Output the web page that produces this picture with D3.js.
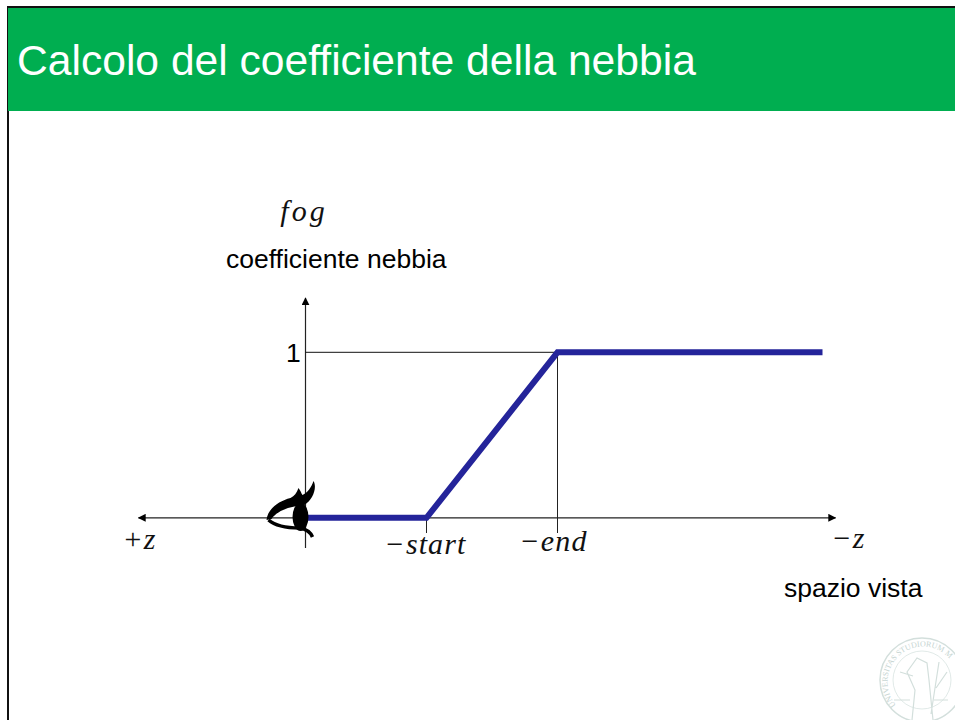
<!DOCTYPE html>
<html>
<head>
<meta charset="utf-8">
<script src="https://cdn.jsdelivr.net/npm/d3@7"></script>
<style>
html,body{margin:0;padding:0;background:#fff;overflow:hidden;}
svg{display:block;}
.sans{font-family:"Liberation Sans",Arial,sans-serif;fill:#000;}
.math{font-family:"Liberation Serif",serif;font-style:italic;fill:#111;font-size:30px;letter-spacing:1.1px;}
</style>
</head>
<body>
<svg class="svg" width="955" height="720"></svg>
<script>
// depth along the view axis (0 = eye), fog coefficient
var fogDepth=[0,121,252,517];
var fogValue=[0,0,1,1];
var startDepth=121,endDepth=252;
var titleText="Calcolo del coefficiente della nebbia";
var depthLabels=[["+z",-166],["\u2212start",120],["\u2212end",248],["\u2212z",543]];

var svg=d3.select(".svg");
var x=d3.scaleLinear().domain([0,517]).range([305.5,822.5]);
var y=d3.scaleLinear().domain([0,1]).range([517.8,352.3]);

//slide frame and header
svg.append("rect").attr("x",8).attr("y",7).attr("width",950).attr("height",716).attr("fill","#fff").attr("stroke","#111").attr("stroke-width",2);
svg.append("rect").attr("x",8).attr("y",8).attr("width",947).attr("height",103).attr("fill","#00ae50");
svg.append("text").attr("class","sans").attr("x",17).attr("y",75).style("font-size","42.6px").style("fill","#fff").text(titleText);

var defs=svg.append("defs");
defs.append("marker").attr("id","tip").attr("viewBox","0 0 10 10").attr("refX",9).attr("refY",5)
    .attr("markerUnits","userSpaceOnUse").attr("markerWidth",8).attr("markerHeight",8).attr("orient","auto-start-reverse")
    .append("path").attr("d","M0 0L10 5L0 10Z").attr("fill","#000");

//seal, very faint and cut by the right edge like the logo on the slide
var seal=svg.append("g").attr("transform","translate(922,680)").attr("fill","none").attr("stroke","#d3dfdc");
seal.append("circle").attr("r",42).attr("stroke-width",1.5);
seal.append("circle").attr("r",29).attr("stroke-width",0.7);
seal.append("path").attr("d","M-10 40L-7 10L-15 -8L-5 -22L5 -17L7 0L11 40M17 -18L9 34M-22 -8L-9 -4M14 8L25 -8M-28 20H-12M12 20H26").attr("stroke-width",1.2);
defs.append("path").attr("id","sealArc").attr("d","M-26 25A35 35 0 1 1 28 -21");
seal.append("text").attr("stroke","none").attr("fill","#c5d4d1").style("font-family","Liberation Serif").style("font-size","8px")
    .append("textPath").attr("href","#sealArc").text("UNIVERSITAS STUDIORUM MED");

//axes
svg.append("line").attr("x1",x(-167)).attr("x2",x(530)).attr("y1",y(0)).attr("y2",y(0))
    .attr("stroke","#222").attr("stroke-width",1.3).attr("marker-start","url(#tip)").attr("marker-end","url(#tip)");
svg.append("line").attr("x1",x(0)).attr("x2",x(0)).attr("y1",548).attr("y2",298)
    .attr("stroke","#222").attr("stroke-width",1.2).attr("marker-end","url(#tip)");

//guides
svg.append("line").attr("x1",x(0)).attr("x2",x(endDepth)).attr("y1",y(1)).attr("y2",y(1)).attr("stroke","#111").attr("stroke-width",1);
svg.append("line").attr("x1",x(endDepth)).attr("x2",x(endDepth)).attr("y1",y(1)).attr("y2",533).attr("stroke","#222").attr("stroke-width",1);
svg.append("line").attr("x1",x(startDepth)).attr("x2",x(startDepth)).attr("y1",y(0)).attr("y2",533).attr("stroke","#222").attr("stroke-width",1);

//fog curve
var line=d3.line().x(function(d){ return x(d[0]); }).y(function(d){ return y(d[1]); });
svg.append("path").attr("d",line(d3.zip(fogDepth,fogValue))).attr("fill","none")
    .attr("stroke","#24249a").attr("stroke-width",6).attr("stroke-linejoin","miter");

//eye
var eye=svg.append("g").attr("transform","translate(305.5,518)");
eye.append("path").attr("d","M-39 2C-38 -9 -27 -17 -15 -20C-11 -22 -9 -25 -7 -30C-4 -26 -4 -24 -3 -23C2 -25 6 -31 8 -37C12 -30 7 -18 -1 -13C-14 -12 -28 -8 -34 1Z").attr("fill","#000");
eye.append("path").attr("d","M-37 2C-30 8 -18 10 -6 10C0 11 5 14 7 19").attr("fill","none").attr("stroke","#000").attr("stroke-width",3.5);
eye.append("ellipse").attr("cx",-5).attr("cy",-1).attr("rx",8).attr("ry",14).attr("fill","#000");

//labels
svg.selectAll("text.depth").data(depthLabels).enter().append("text").attr("class","math depth")
    .attr("x",function(d){ return x(d[1]); })
    .attr("y",function(d,i){ return [549,554,551,548][i]; })
    .attr("text-anchor","middle").text(function(d){ return d[0]; });
svg.append("text").attr("class","math").attr("x",304).attr("y",221).attr("text-anchor","middle").style("letter-spacing","3px").text("fog");
svg.append("text").attr("class","sans").attr("x",226).attr("y",268).style("font-size","26.5px").text("coefficiente nebbia");
svg.append("text").attr("class","sans").attr("x",286).attr("y",362).style("font-size","26.5px").text("1");
svg.append("text").attr("class","sans").attr("x",784).attr("y",597).style("font-size","26.5px").text("spazio vista");
</script>
</body>
</html>
